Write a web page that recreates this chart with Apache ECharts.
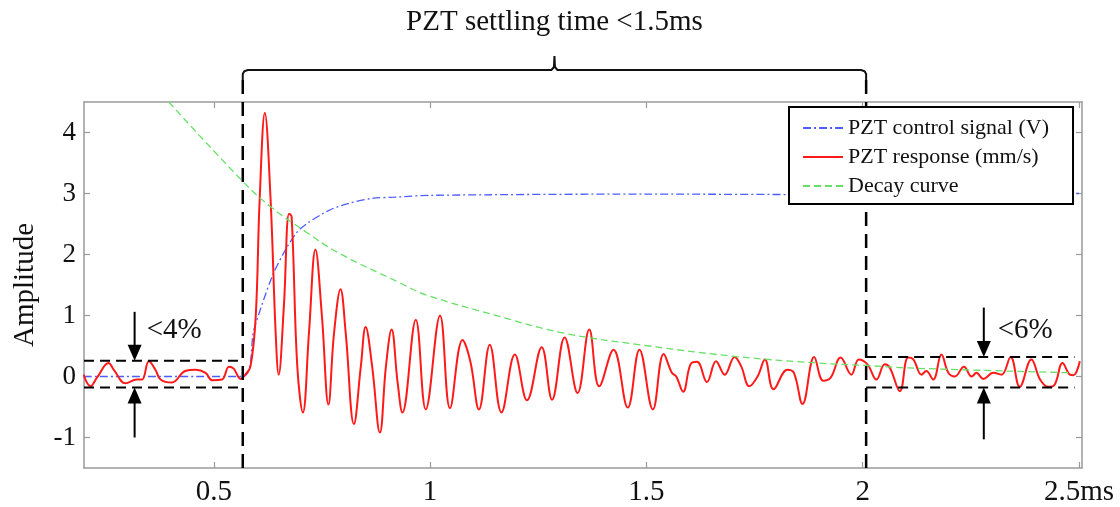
<!DOCTYPE html>
<html>
<head>
<meta charset="utf-8">
<script src="https://cdn.jsdelivr.net/npm/echarts@6/dist/echarts.min.js"></script>
<style>
html,body{margin:0;padding:0;background:#fff;}
#chart{width:1120px;height:507px;}
</style>
</head>
<body>
<div id="chart"></div>
<script>
// ---------- data ----------
const xTicks = [0.5, 1, 1.5, 2, 2.5];
const xTickLabels = ['0.5', '1', '1.5', '2', '2.5ms'];
const yTicks = [-1, 0, 1, 2, 3, 4];
const yTickLabels = ['-1', '0', '1', '2', '3', '4'];

const seriesNames = ['PZT control signal (V)', 'PZT response (mm/s)', 'Decay curve'];

const controlTime  = [0.2, 0.566, 0.593, 0.635, 0.666, 0.693, 0.716, 0.752, 0.778, 0.813, 0.866, 0.92, 1.0, 1.5, 2.0, 2.5];
const controlValue = [0.0, 0.0, 0.77, 1.64, 2.08, 2.37, 2.51, 2.67, 2.76, 2.84, 2.92, 2.94, 2.97, 2.99, 2.98, 3.0];

const responseTime = [
  0.199,0.215,0.23,0.257,0.269,0.296,0.322,0.334,0.35,0.365,0.377,0.403,0.434,0.458,0.481,0.496,0.519,0.535,0.546,0.562,
  0.573,0.585,0.597,0.606,0.618,0.631,0.643,0.65,0.662,0.674,0.68,0.693,0.706,0.72,0.735,0.75,0.765,0.778,0.793,0.805,
  0.824,0.84,0.851,0.866,0.884,0.898,0.911,0.925,0.936,0.967,0.99,1.023,1.046,1.075,1.093,1.113,1.138,1.165,1.196,1.224,
  1.258,1.282,1.311,1.341,1.368,1.391,1.424,1.457,1.484,1.515,1.54,1.559,1.569,1.585,1.602,1.617,1.64,1.661,1.681,1.704,
  1.719,1.738,1.757,1.774,1.794,1.826,1.841,1.861,1.888,1.909,1.926,1.949,1.974,1.991,2.011,2.032,2.051,2.063,2.086,2.105,
  2.117,2.136,2.147,2.163,2.182,2.198,2.213,2.234,2.252,2.263,2.279,2.302,2.321,2.342,2.363,2.39,2.41,2.429,2.444,2.462,
  2.479,2.487,2.502
];
const responseValue = [
  0.03,-0.16,-0.02,0.22,0.11,-0.11,-0.05,-0.05,0.25,0.11,-0.05,-0.10,0.09,0.11,0.06,-0.06,-0.05,0.16,0.13,-0.04,
  0.03,0.17,0.99,2.89,4.32,2.95,0.72,0.03,1.15,2.67,2.62,0.17,-0.59,0.71,2.08,0.99,-0.46,0.71,1.43,0.71,
  -0.78,0.17,0.81,0.17,-0.92,0.17,0.77,-0.10,-0.59,0.93,-0.54,1.0,-0.52,0.60,0.25,-0.54,0.52,-0.59,0.36,-0.39,
  0.48,-0.38,0.64,-0.27,0.77,-0.16,0.44,-0.51,0.44,-0.54,0.37,0.06,0.00,-0.25,0.20,0.24,-0.09,0.25,0.03,0.32,
  0.17,-0.16,0.00,0.28,-0.21,0.11,0.06,-0.45,0.32,-0.07,-0.02,0.31,0.03,0.28,0.20,-0.05,0.20,0.14,-0.24,0.31,
  0.28,0.03,0.09,-0.05,0.36,0.06,0.00,0.16,0.00,0.06,-0.04,0.06,0.03,0.32,-0.17,0.28,-0.05,-0.17,-0.13,0.22,
  0.03,0.02,0.25
];

const decayTime  = [0.396, 0.564, 0.630, 0.713, 0.790, 0.929, 0.990, 1.148, 1.310, 1.507, 1.704, 1.897, 2.009, 2.105, 2.486];
const decayValue = [4.50, 3.22, 2.79, 2.37, 2.02, 1.54, 1.34, 1.01, 0.71, 0.50, 0.33, 0.22, 0.18, 0.14, 0.06];

// annotations (data units)
const titleText = 'PZT settling time <1.5ms';
const settleStart = 0.567, settleEnd = 2.008;
const leftBand  = {x0: 0.2,   x1: 0.567, top: 0.26, bottom: -0.18, arrowX: 0.317, tailTop: 1.06, tailBottom: -1.0, label: '<4%', labelX: 0.345, labelY: 0.75};
const rightBand = {x0: 2.008, x1: 2.49,  top: 0.32, bottom: -0.18, arrowX: 2.28,  tailTop: 1.13, tailBottom: -1.03, label: '<6%', labelX: 2.312, labelY: 0.75};

// ---------- chart ----------
const zip = (a, b) => a.map((v, i) => [v, b[i]]);
const FONT = "'Liberation Serif','Times New Roman',serif";
const AX = '#9a9a9a';

const chart = echarts.init(document.getElementById('chart'), null, {renderer: 'canvas'});

const xBase = {type: 'value', min: 0.2, max: 2.507, splitLine: {show: false},
  axisLine: {onZero: false, lineStyle: {color: AX, width: 1.5}},
  axisTick: {inside: true, length: 6, lineStyle: {color: AX, width: 1.2}, customValues: xTicks}};
const yBase = {type: 'value', min: -1.5, max: 4.5, splitLine: {show: false},
  axisLine: {onZero: false, lineStyle: {color: AX, width: 1.5}},
  axisTick: {inside: true, length: 6, lineStyle: {color: AX, width: 1.2}, customValues: yTicks}};

const option = {
  animation: false,
  backgroundColor: '#fff',
  grid: {left: 84, right: 38, top: 102, bottom: 38, containLabel: false},
  legend: {
    orient: 'vertical', left: 789, top: 107, z: 50,
    data: seriesNames,
    backgroundColor: '#fff', borderColor: '#000', borderWidth: 2,
    padding: [10, 24, 7, 13], itemGap: 7, itemWidth: 40, itemHeight: 14,
    itemStyle: {opacity: 0},
    textStyle: {fontFamily: FONT, fontSize: 22, color: '#111'}
  },
  xAxis: [
    Object.assign({}, xBase, {position: 'bottom',
      axisLabel: {customValues: xTicks, fontFamily: FONT, fontSize: 29, color: '#111', margin: 10,
        formatter: v => xTickLabels[xTicks.indexOf(+v.toFixed(3))] ?? ''}}),
    Object.assign({}, xBase, {position: 'top', axisLabel: {show: false}})
  ],
  yAxis: [
    Object.assign({}, yBase, {position: 'left',
      name: 'Amplitude', nameLocation: 'middle', nameRotate: 90, nameGap: 44,
      nameTextStyle: {fontFamily: FONT, fontSize: 29, color: '#111'},
      axisLabel: {customValues: yTicks, fontFamily: FONT, fontSize: 27, color: '#111', margin: 8,
        formatter: v => yTickLabels[yTicks.indexOf(Math.round(v))] ?? ''}}),
    Object.assign({}, yBase, {position: 'right', axisLabel: {show: false}})
  ],
  series: [
    {name: seriesNames[0], type: 'line', data: zip(controlTime, controlValue), symbol: 'none', smooth: 0.3,
      lineStyle: {color: '#4d5dff', width: 1.3, type: [8, 3, 2, 3]}, itemStyle: {color: '#1a66ff'}, z: 2},
    {name: seriesNames[1], type: 'line', data: zip(responseTime, responseValue), symbol: 'none', smooth: 0.4,
      lineStyle: {color: '#ff1a1a', width: 2}, itemStyle: {color: '#ff0000'}, z: 3},
    {name: seriesNames[2], type: 'line', data: zip(decayTime, decayValue), symbol: 'none', smooth: 0.4,
      lineStyle: {color: '#66e066', width: 1.3, type: [7, 4]}, itemStyle: {color: '#22dd22'}, z: 4}
  ]
};
chart.setOption(option);

// ---------- annotations positioned through the chart's scales ----------
const P = (x, y) => chart.convertToPixel({gridIndex: 0}, [x, y]);
const gridTop = P(0.2, 4.5)[1], gridBottom = P(0.2, -1.5)[1];
const xs = P(settleStart, 0)[0], xe = P(settleEnd, 0)[0], xc = (xs + xe) / 2;
const bracketY = gridTop - 32, bracketEnd = gridTop - 22;
const elems = [];
const black = '#000';
const ZA = 10;

elems.push({type: 'text', x: xc, y: 22, z: ZA, style: {text: titleText, font: '29px ' + FONT, fill: '#111', align: 'center', verticalAlign: 'middle'}});
elems.push({type: 'polyline', z: ZA, shape: {points: [
  [xs, bracketEnd], [xs, bracketY + 4], [xs + 1.5, bracketY + 1.2], [xs + 5, bracketY],
  [xc - 3, bracketY], [xc - 0.5, bracketY - 3], [xc, bracketY - 14], [xc + 0.5, bracketY - 3], [xc + 3, bracketY],
  [xe - 5, bracketY], [xe - 1.5, bracketY + 1.2], [xe, bracketY + 4], [xe, bracketEnd]]},
  style: {stroke: '#111', lineWidth: 2, fill: null}});
[xs, xe].forEach(x => elems.push({type: 'line', z: ZA, shape: {x1: x, y1: bracketEnd, x2: x, y2: gridBottom},
  style: {stroke: black, lineWidth: 2.5, lineDash: [14, 8]}}));

function band(b) {
  [b.top, b.bottom].forEach(v => {
    const a = P(b.x0, v), c = P(b.x1, v);
    elems.push({type: 'line', z: ZA, shape: {x1: a[0], y1: a[1], x2: c[0], y2: c[1]}, style: {stroke: black, lineWidth: 2, lineDash: [10, 6]}});
  });
  const t0 = P(b.arrowX, b.tailTop), t1 = P(b.arrowX, b.top);
  const u0 = P(b.arrowX, b.tailBottom), u1 = P(b.arrowX, b.bottom);
  const hw = 7, hl = 16;
  elems.push({type: 'line', z: ZA, shape: {x1: t0[0], y1: t0[1], x2: t1[0], y2: t1[1] - hl + 2}, style: {stroke: black, lineWidth: 2}});
  elems.push({type: 'polygon', z: ZA, shape: {points: [[t1[0] - hw, t1[1] - hl], [t1[0] + hw, t1[1] - hl], [t1[0], t1[1]]]}, style: {fill: black}});
  elems.push({type: 'line', z: ZA, shape: {x1: u0[0], y1: u0[1], x2: u1[0], y2: u1[1] + hl - 2}, style: {stroke: black, lineWidth: 2}});
  elems.push({type: 'polygon', z: ZA, shape: {points: [[u1[0] - hw, u1[1] + hl], [u1[0] + hw, u1[1] + hl], [u1[0], u1[1]]]}, style: {fill: black}});
  const lp = P(b.labelX, b.labelY);
  elems.push({type: 'text', z: ZA, x: lp[0], y: lp[1], style: {text: b.label, font: '29px ' + FONT, fill: '#111', align: 'left', verticalAlign: 'middle'}});
}
band(leftBand);
band(rightBand);

chart.setOption({graphic: {elements: elems}});
</script>
</body>
</html>
